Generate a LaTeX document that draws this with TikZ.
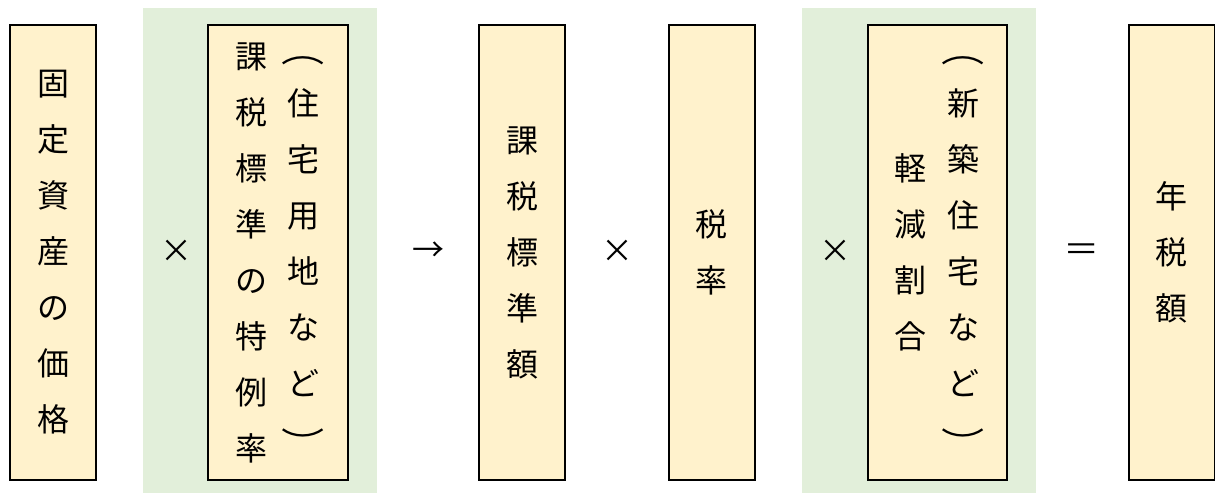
\documentclass[tikz,border=0pt]{standalone}
\usepackage{fontspec}
\setmainfont{Noto Sans CJK JP}
\usepackage{xcolor}
\usetikzlibrary{positioning}
\definecolor{boxfill}{HTML}{FFF2CC}
\definecolor{groupfill}{HTML}{E2EFDA}
\newcommand{\openp}{\raisebox{-1.5pt}[\height][\depth]{\scalebox{1.35}[1]{︵}}}
\newcommand{\closep}{\raisebox{-2pt}[\height][\depth]{\scalebox{1.35}[1]{︶}}}

\begin{document}
\begin{tikzpicture}[x=0.5pt, y=-0.5pt,
  factor/.style={draw=black, line width=1pt, fill=boxfill, minimum height=227.5pt, inner sep=0pt},
  tate/.style={font=\fontsize{16}{28}\selectfont, align=center, inner sep=0pt},
  op/.style={font=\fontsize{16}{20}\selectfont, inner sep=0pt}]
% Canvas
\useasboundingbox (0,0) rectangle (1215,493);

% Green groups
\fill[groupfill] (143,8) rectangle (377,493);
\fill[groupfill] (802,8) rectangle (1036,493);

% Factor boxes
\node[factor, minimum width=43pt] (price) at (53,252.5) {};
\node[factor, minimum width=70pt] (special) at (278,252.5) {};
\node[factor, minimum width=43pt] (base) at (522,252.5) {};
\node[factor, minimum width=43pt] (rate) at (711.5,252.5) {};
\node[factor, minimum width=69.5pt] (reduce) at (937.5,252.5) {};
\node[factor, minimum width=43pt] (annual) at (1171.5,252.5) {};

% Vertical texts
\node[tate] (t-price) at (price) {固\\定\\資\\産\\の\\価\\格};
\node[tate] (t-special-r) at ([xshift=12.5pt]special.center) {\openp\\住\\宅\\用\\地\\な\\ど\\\closep};
\node[tate] (t-special-l) at ([xshift=-13.5pt]special.center) {課\\税\\標\\準\\の\\特\\例\\率};
\node[tate] (t-base) at (base) {課\\税\\標\\準\\額};
\node[tate] (t-rate) at (rate) {税\\率};
\node[tate] (t-reduce-r) at ([xshift=12.75pt]reduce.center) {\openp\\新\\築\\住\\宅\\な\\ど\\\closep};
\node[tate] (t-reduce-l) at ([xshift=-13.75pt]reduce.center) {軽\\減\\割\\合};
\node[tate] (t-annual) at (annual) {年\\税\\額};

% Operators
\node[op] (times1) at (176,251) {×};
\node[op] (to) at (428,252) {→};
\node[op] (times2) at (617,251) {×};
\node[op] (times3) at (835,251) {×};
\node[op] (equals) at (1082,252) {\scalebox{1.7}[1]{=}};

\end{tikzpicture}
\end{document}
